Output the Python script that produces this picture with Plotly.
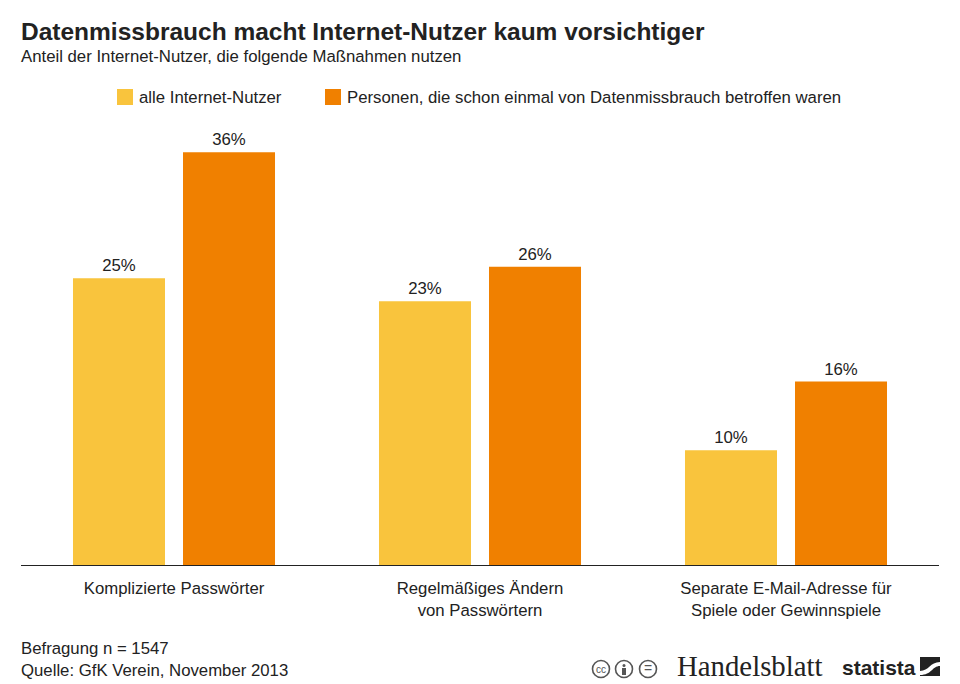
import plotly.graph_objects as go

categories = ["Komplizierte Passwörter", "Regelmäßiges Ändern<br>von Passwörtern",
              "Separate E-Mail-Adresse für<br>Spiele oder Gewinnspiele"]
alle_nutzer = [25, 23, 10]
betroffene = [36, 26, 16]
series_names = ["alle Internet-Nutzer",
                "Personen, die schon einmal von Datenmissbrauch betroffen waren"]

YELLOW = "#F9C43D"
ORANGE = "#F08000"
INK = "#222222"
FONT = "Liberation Sans, Arial, sans-serif"
TEXT_SIZE = 16.75

W, H = 960, 684
L, R, T, B = 21, 21, 130, 119


# pixel position on the page -> paper coordinates of the plot area
def px(x):
    return (x - L) / (W - L - R)


def py(y):
    return (H - B - y) / (H - T - B)


def label(x, y, text, size=TEXT_SIZE, color=INK, anchor="left", family=FONT):
    # annotations carry about 2px of padding, take it off left aligned text
    shift = 2 if anchor == "left" else 0
    return dict(x=px(x - shift), y=py(y), xref="paper", yref="paper", text=text, showarrow=False,
                xanchor=anchor, yanchor="middle", align="left",
                font=dict(size=size, color=color, family=family))


def box(x0, y0, x1, y1, color):
    return dict(type="rect", xref="paper", yref="paper", x0=px(x0), x1=px(x1), y0=py(y0), y1=py(y1),
                fillcolor=color, line_width=0)


def ring(cx, cy, r=8.5):
    return dict(type="circle", xref="paper", yref="paper", x0=px(cx - r), x1=px(cx + r),
                y0=py(cy + r), y1=py(cy - r), line=dict(color="#555555", width=1.6), fillcolor="white")


fig = go.Figure()
for name, vals, col in [(series_names[0], alle_nutzer, YELLOW), (series_names[1], betroffene, ORANGE)]:
    fig.add_trace(go.Bar(
        x=categories, y=vals, name=name, marker_color=col, marker_line_width=0,
        text=[f"{v}%" for v in vals], textposition="outside", cliponaxis=False,
        textfont=dict(size=TEXT_SIZE, color=INK, family=FONT),
    ))

annotations = [
    label(21, 32, "<b>Datenmissbrauch macht Internet-Nutzer kaum vorsichtiger</b>", size=24.5),
    label(21, 57, "Anteil der Internet-Nutzer, die folgende Maßnahmen nutzen"),
    label(139, 97, series_names[0]),
    label(347, 97, series_names[1]),
    label(21, 648, "Befragung n = 1547"),
    label(21, 670, "Quelle: GfK Verein, November 2013"),
    label(677, 666, "Handelsblatt", size=28.8, color="#222222", family="Liberation Serif, serif"),
    label(842, 667, "<b>statista</b>", size=21, color="#222222"),
    label(601, 669, "cc", size=10, color="#555555", anchor="center"),
    label(648, 668, "=", size=14, color="#555555", anchor="center"),
]

shapes = [
    box(117, 89, 133, 105, YELLOW),
    box(325, 89, 341, 105, ORANGE),
    ring(601, 669), ring(624, 669), ring(648, 669),
    # person in the BY icon
    dict(type="circle", xref="paper", yref="paper", x0=px(622.5), x1=px(625.5), y0=py(667), y1=py(664),
         fillcolor="#555555", line_width=0),
    box(622, 668, 626, 675, "#555555"),
    # statista mark
    box(920, 657, 940, 676, "#222222"),
    dict(type="path", xref="paper", yref="paper", line_width=0, fillcolor="white",
         path=f"M {px(920)} {py(671)} C {px(929)} {py(671)} {px(930)} {py(662)} {px(940)} {py(662)} "
              f"L {px(940)} {py(666)} C {px(932)} {py(666)} {px(932)} {py(675)} {px(920)} {py(675)} Z"),
]

fig.update_layout(
    width=W, height=H,
    margin=dict(l=L, r=R, t=T, b=B, autoexpand=False),
    paper_bgcolor="white", plot_bgcolor="white",
    barmode="group", bargap=0.281, bargroupgap=0.1636,
    showlegend=False,
    font=dict(family=FONT, color=INK, size=TEXT_SIZE),
    annotations=annotations, shapes=shapes,
    xaxis=dict(showline=True, linecolor=INK, linewidth=1, ticks="outside", ticklen=8,
               tickcolor="white", tickfont=dict(size=TEXT_SIZE, color=INK, family=FONT), showgrid=False),
    yaxis=dict(visible=False, range=[0, 37.93], showgrid=False, zeroline=False),
)

fig.write_html("out.html", config=dict(displayModeBar=False),
               post_script="document.body.style.margin='0';document.body.style.overflow='hidden';")
